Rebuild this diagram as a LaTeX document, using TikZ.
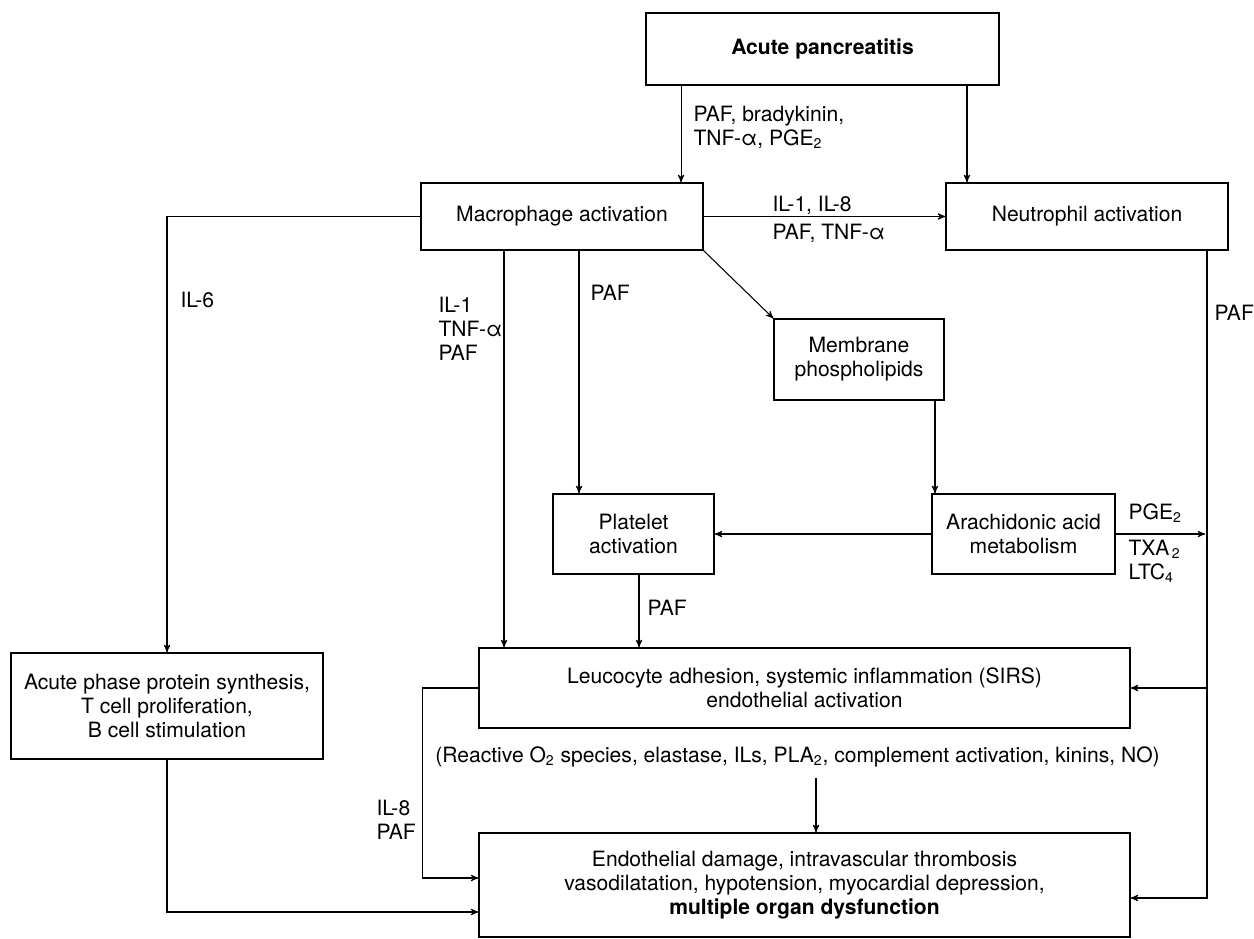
\documentclass[tikz,border=0pt]{standalone}
\usepackage{fontspec}
\setmainfont{TeX Gyre Heros}
\usetikzlibrary{arrows,positioning,calc}

\begin{document}
\begin{tikzpicture}[->, >=stealth', x=0.02cm, y=-0.02cm, line width=0.6pt, font=\fontsize{12}{13.6}\selectfont]
	\tikzstyle{box}=[draw=black, line width=0.8pt, rectangle, align=center, inner sep=2pt]
	\tikzstyle{lbl}=[inner sep=0pt, align=left, anchor=west]
	\useasboundingbox (0,0) rectangle (1254,939);

	% boxes
	\node[box, minimum width=7.06cm, minimum height=1.44cm] (acute) at (822.5,49) {\textbf{Acute pancreatitis}};
	\node[box, minimum width=5.64cm, minimum height=1.34cm] (macro) at (562,216.5) {Macrophage activation};
	\node[box, minimum width=5.64cm, minimum height=1.34cm] (neutro) at (1087,216.5) {Neutrophil activation};
	\node[box, minimum width=3.40cm, minimum height=1.62cm] (membr) at (859,359.5) {Membrane\\phospholipids};
	\node[box, minimum width=3.66cm, minimum height=1.60cm] (arach) at (1023.5,534) {Arachidonic acid\\metabolism};
	\node[box, minimum width=3.22cm, minimum height=1.60cm] (platel) at (633.5,534) {Platelet\\activation};
	\node[box, minimum width=6.24cm, minimum height=2.12cm] (phase) at (167,706) {Acute phase protein synthesis,\\T cell proliferation,\\B cell stimulation};
	\node[box, minimum width=13.02cm, minimum height=1.60cm] (leuco) at (804.5,688) {Leucocyte adhesion, systemic inflammation (SIRS)\\endothelial activation};
	\node[box, minimum width=13.02cm, minimum height=2.08cm] (organ) at (804.5,885) {Endothelial damage, intravascular thrombosis\\vasodilatation, hypotension, myocardial depression,\\\textbf{multiple organ dysfunction}};
	\node[inner sep=0pt] (reactive) at (797.5,757) {(Reactive O\textsubscript{2} species, elastase, ILs, PLA\textsubscript{2}, complement activation, kinins, NO)};

	% labels
	\node[lbl] (lpanc) at (693,127) {PAF, bradykinin,\\TNF-α, PGE\textsubscript{2}};
	\node[lbl] (lneua) at (772,205) {IL-1, IL-8};
	\node[lbl] (lneub) at (772,233) {PAF, TNF-α};
	\node[lbl] (lil6) at (180,300) {IL-6};
	\node[lbl] (lmacl) at (438,328.5) {IL-1\\TNF-α\\PAF};
	\node[lbl] (lmacp) at (590,293) {PAF};
	\node[lbl] (lneup) at (1214,313) {PAF};
	\node[lbl] (lpge) at (1128,513) {PGE\textsubscript{2}};
	\node[lbl] (ltxa) at (1128,561.5) {TXA\textsubscript{\,2}\\LTC\textsubscript{4}};
	\node[lbl] (lplat) at (647,608) {PAF};
	\node[lbl] (lil8) at (376,819.5) {IL-8\\PAF};

	% connectors
	\coordinate (rline) at ([xshift=2.4cm]neutro.south);
	\draw ([xshift=-2.83cm]acute.south) -- ([xshift=-2.83cm]acute.south |- macro.north);
	\draw ([xshift=2.89cm]acute.south) -- ([xshift=2.89cm]acute.south |- neutro.north);
	\draw (macro.east) -- (neutro.west);
	\draw (macro.west) -| (phase.north);
	\draw ([xshift=-1.16cm]macro.south) -- ([xshift=-1.16cm]macro.south |- leuco.north);
	\draw ([xshift=0.34cm]macro.south) -- ([xshift=0.34cm]macro.south |- platel.north);
	\draw (macro.south east) -- (membr.north west);
	\draw ([xshift=1.52cm]membr.south) -- ([xshift=1.52cm]membr.south |- arach.north);
	\draw (arach.west) -- (platel.east);
	\draw[shorten >=1pt] (arach.east) -- (arach.east -| rline);
	\draw (rline) |- ([yshift=-0.26cm]organ.east);
	\draw (rline |- leuco.east) -- (leuco.east);
	\draw ([xshift=0.11cm]platel.south) -- ([xshift=0.11cm]platel.south |- leuco.north);
	\draw (leuco.west) -- ++(-56,0) |- ([yshift=0.14cm]organ.west);
	\draw (phase.south) |- ([yshift=-0.54cm]organ.west);
	\draw[shorten <=0.2cm] ([xshift=0.37cm]reactive.south) -- ([xshift=0.37cm]reactive.south |- organ.north);
\end{tikzpicture}
\end{document}
